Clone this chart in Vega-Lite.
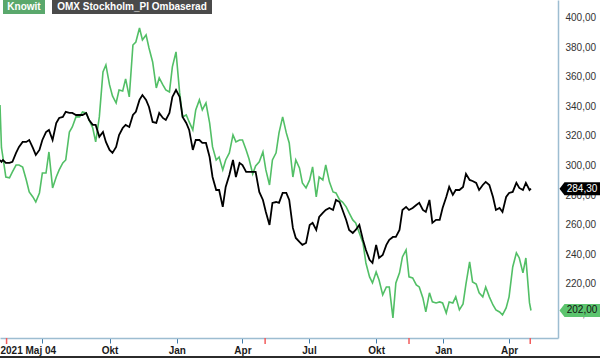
{
  "$schema": "https://vega.github.io/schema/vega-lite/v6.json",
  "width": 558,
  "height": 338,
  "autosize": {"type": "none"},
  "padding": {"left": 0, "top": 0, "right": 42, "bottom": 20},
  "background": "white",
  "config": {
    "view": {"stroke": null},
    "font": "Liberation Sans",
    "locale": {"number": {"decimal": ",", "thousands": " ", "grouping": [3], "currency": ["", ""]}}
  },
  "data": {"values": [
    {"d":"2021-05-04","Knowit":340.9,"OMX":303.7},
    {"d":"2021-05-06","Knowit":312.0,"OMX":302.5},
    {"d":"2021-05-08","Knowit":305.7,"OMX":303.7},
    {"d":"2021-05-12","Knowit":292.2,"OMX":301.7},
    {"d":"2021-05-17","Knowit":291.6,"OMX":301.7},
    {"d":"2021-05-21","Knowit":295.6,"OMX":302.4},
    {"d":"2021-05-26","Knowit":300.3,"OMX":308.5},
    {"d":"2021-05-30","Knowit":300.3,"OMX":312.5},
    {"d":"2021-06-04","Knowit":299.0,"OMX":315.9},
    {"d":"2021-06-09","Knowit":290.2,"OMX":315.9},
    {"d":"2021-06-13","Knowit":282.1,"OMX":317.2},
    {"d":"2021-06-18","Knowit":278.7,"OMX":311.8},
    {"d":"2021-06-22","Knowit":275.3,"OMX":307.1},
    {"d":"2021-06-27","Knowit":281.4,"OMX":310.5},
    {"d":"2021-07-01","Knowit":294.9,"OMX":317.2},
    {"d":"2021-07-06","Knowit":294.9,"OMX":322.6},
    {"d":"2021-07-10","Knowit":309.1,"OMX":324.0},
    {"d":"2021-07-15","Knowit":284.8,"OMX":317.2},
    {"d":"2021-07-20","Knowit":292.2,"OMX":328.7},
    {"d":"2021-07-24","Knowit":297.0,"OMX":332.1},
    {"d":"2021-07-29","Knowit":301.7,"OMX":332.8},
    {"d":"2021-08-02","Knowit":303.7,"OMX":336.2},
    {"d":"2021-08-07","Knowit":322.6,"OMX":335.5},
    {"d":"2021-08-11","Knowit":326.0,"OMX":335.5},
    {"d":"2021-08-16","Knowit":332.8,"OMX":334.1},
    {"d":"2021-08-21","Knowit":332.8,"OMX":334.1},
    {"d":"2021-08-25","Knowit":336.2,"OMX":334.1},
    {"d":"2021-08-30","Knowit":335.5,"OMX":335.5},
    {"d":"2021-09-03","Knowit":330.7,"OMX":330.7},
    {"d":"2021-09-08","Knowit":325.3,"OMX":327.4},
    {"d":"2021-09-12","Knowit":315.9,"OMX":327.4},
    {"d":"2021-09-17","Knowit":332.8,"OMX":319.3},
    {"d":"2021-09-22","Knowit":363.2,"OMX":322.6},
    {"d":"2021-09-26","Knowit":367.9,"OMX":315.9},
    {"d":"2021-10-01","Knowit":354.4,"OMX":310.5},
    {"d":"2021-10-05","Knowit":347.0,"OMX":308.5},
    {"d":"2021-10-10","Knowit":342.2,"OMX":312.5},
    {"d":"2021-10-14","Knowit":351.0,"OMX":320.6},
    {"d":"2021-10-19","Knowit":350.3,"OMX":325.3},
    {"d":"2021-10-23","Knowit":358.5,"OMX":327.4},
    {"d":"2021-10-28","Knowit":346.3,"OMX":326.0},
    {"d":"2021-11-02","Knowit":381.4,"OMX":334.1},
    {"d":"2021-11-06","Knowit":383.4,"OMX":336.2},
    {"d":"2021-11-11","Knowit":392.9,"OMX":344.3},
    {"d":"2021-11-15","Knowit":384.8,"OMX":347.6},
    {"d":"2021-11-20","Knowit":388.2,"OMX":344.3},
    {"d":"2021-11-24","Knowit":379.4,"OMX":339.5},
    {"d":"2021-11-29","Knowit":369.9,"OMX":329.4},
    {"d":"2021-12-04","Knowit":352.4,"OMX":328.7},
    {"d":"2021-12-08","Knowit":359.1,"OMX":335.5},
    {"d":"2021-12-13","Knowit":354.4,"OMX":332.1},
    {"d":"2021-12-17","Knowit":351.0,"OMX":330.7},
    {"d":"2021-12-22","Knowit":349.7,"OMX":335.5},
    {"d":"2021-12-26","Knowit":366.6,"OMX":346.3},
    {"d":"2021-12-31","Knowit":376.7,"OMX":351.0},
    {"d":"2022-01-05","Knowit":349.0,"OMX":346.3},
    {"d":"2022-01-09","Knowit":332.8,"OMX":332.8},
    {"d":"2022-01-14","Knowit":334.1,"OMX":328.7},
    {"d":"2022-01-18","Knowit":329.4,"OMX":324.0},
    {"d":"2022-01-23","Knowit":324.0,"OMX":310.5},
    {"d":"2022-01-27","Knowit":337.5,"OMX":317.2},
    {"d":"2022-02-01","Knowit":344.3,"OMX":317.2},
    {"d":"2022-02-05","Knowit":337.5,"OMX":315.2},
    {"d":"2022-02-10","Knowit":342.2,"OMX":315.2},
    {"d":"2022-02-15","Knowit":328.7,"OMX":305.7},
    {"d":"2022-02-19","Knowit":312.5,"OMX":292.2},
    {"d":"2022-02-24","Knowit":303.7,"OMX":283.4},
    {"d":"2022-02-28","Knowit":305.7,"OMX":283.4},
    {"d":"2022-03-05","Knowit":297.0,"OMX":272.0},
    {"d":"2022-03-09","Knowit":303.7,"OMX":285.5},
    {"d":"2022-03-14","Knowit":308.5,"OMX":293.6},
    {"d":"2022-03-19","Knowit":320.6,"OMX":303.7},
    {"d":"2022-03-23","Knowit":315.9,"OMX":292.2},
    {"d":"2022-03-28","Knowit":317.2,"OMX":301.7},
    {"d":"2022-04-01","Knowit":317.2,"OMX":300.3},
    {"d":"2022-04-06","Knowit":310.5,"OMX":295.6},
    {"d":"2022-04-10","Knowit":304.4,"OMX":295.6},
    {"d":"2022-04-15","Knowit":294.3,"OMX":295.6},
    {"d":"2022-04-19","Knowit":299.7,"OMX":295.6},
    {"d":"2022-04-24","Knowit":302.4,"OMX":282.1},
    {"d":"2022-04-29","Knowit":309.1,"OMX":276.7},
    {"d":"2022-05-03","Knowit":297.0,"OMX":268.6},
    {"d":"2022-05-08","Knowit":286.8,"OMX":259.8},
    {"d":"2022-05-12","Knowit":303.7,"OMX":274.7},
    {"d":"2022-05-17","Knowit":308.5,"OMX":275.3},
    {"d":"2022-05-21","Knowit":322.0,"OMX":274.7},
    {"d":"2022-05-26","Knowit":332.8,"OMX":281.4},
    {"d":"2022-05-31","Knowit":322.0,"OMX":281.4},
    {"d":"2022-06-04","Knowit":315.2,"OMX":276.7},
    {"d":"2022-06-09","Knowit":292.2,"OMX":257.8},
    {"d":"2022-06-13","Knowit":303.7,"OMX":251.0},
    {"d":"2022-06-18","Knowit":298.3,"OMX":248.3},
    {"d":"2022-06-22","Knowit":288.2,"OMX":246.3},
    {"d":"2022-06-27","Knowit":284.8,"OMX":247.6},
    {"d":"2022-07-02","Knowit":290.2,"OMX":259.8},
    {"d":"2022-07-06","Knowit":299.0,"OMX":261.2},
    {"d":"2022-07-11","Knowit":278.7,"OMX":256.4},
    {"d":"2022-07-15","Knowit":292.2,"OMX":265.2},
    {"d":"2022-07-20","Knowit":290.2,"OMX":267.9},
    {"d":"2022-07-24","Knowit":300.3,"OMX":269.9},
    {"d":"2022-07-29","Knowit":288.9,"OMX":271.3},
    {"d":"2022-08-03","Knowit":282.1,"OMX":269.9},
    {"d":"2022-08-07","Knowit":281.4,"OMX":276.7},
    {"d":"2022-08-12","Knowit":276.7,"OMX":275.3},
    {"d":"2022-08-16","Knowit":275.3,"OMX":269.9},
    {"d":"2022-08-21","Knowit":272.0,"OMX":263.2},
    {"d":"2022-08-25","Knowit":267.9,"OMX":256.4},
    {"d":"2022-08-30","Knowit":263.2,"OMX":254.4},
    {"d":"2022-09-03","Knowit":261.2,"OMX":256.4},
    {"d":"2022-09-08","Knowit":254.4,"OMX":259.8},
    {"d":"2022-09-13","Knowit":247.6,"OMX":249.7},
    {"d":"2022-09-17","Knowit":234.1,"OMX":242.9},
    {"d":"2022-09-22","Knowit":224.7,"OMX":236.2},
    {"d":"2022-09-26","Knowit":220.6,"OMX":234.1},
    {"d":"2022-10-01","Knowit":228.0,"OMX":246.3},
    {"d":"2022-10-05","Knowit":222.6,"OMX":237.5},
    {"d":"2022-10-10","Knowit":212.5,"OMX":239.5},
    {"d":"2022-10-15","Knowit":217.9,"OMX":246.3},
    {"d":"2022-10-19","Knowit":217.9,"OMX":249.7},
    {"d":"2022-10-24","Knowit":197.0,"OMX":251.7},
    {"d":"2022-10-28","Knowit":220.6,"OMX":251.7},
    {"d":"2022-11-02","Knowit":227.4,"OMX":256.4},
    {"d":"2022-11-06","Knowit":238.2,"OMX":269.9},
    {"d":"2022-11-11","Knowit":242.9,"OMX":272.0},
    {"d":"2022-11-15","Knowit":224.7,"OMX":269.9},
    {"d":"2022-11-20","Knowit":224.0,"OMX":271.3},
    {"d":"2022-11-25","Knowit":219.3,"OMX":273.3},
    {"d":"2022-11-29","Knowit":217.9,"OMX":274.7},
    {"d":"2022-12-04","Knowit":210.5,"OMX":269.9},
    {"d":"2022-12-08","Knowit":201.0,"OMX":268.6},
    {"d":"2022-12-13","Knowit":213.9,"OMX":276.7},
    {"d":"2022-12-17","Knowit":207.8,"OMX":261.2},
    {"d":"2022-12-22","Knowit":207.1,"OMX":263.2},
    {"d":"2022-12-27","Knowit":207.8,"OMX":263.2},
    {"d":"2022-12-31","Knowit":207.1,"OMX":271.3},
    {"d":"2023-01-05","Knowit":200.3,"OMX":278.7},
    {"d":"2023-01-09","Knowit":207.8,"OMX":285.5},
    {"d":"2023-01-14","Knowit":207.1,"OMX":280.1},
    {"d":"2023-01-18","Knowit":211.2,"OMX":283.4},
    {"d":"2023-01-23","Knowit":202.4,"OMX":283.4},
    {"d":"2023-01-28","Knowit":206.4,"OMX":285.5},
    {"d":"2023-02-01","Knowit":219.9,"OMX":294.3},
    {"d":"2023-02-06","Knowit":234.8,"OMX":290.2},
    {"d":"2023-02-10","Knowit":221.3,"OMX":289.5},
    {"d":"2023-02-15","Knowit":219.9,"OMX":288.2},
    {"d":"2023-02-19","Knowit":213.9,"OMX":283.4},
    {"d":"2023-02-24","Knowit":211.2,"OMX":286.8},
    {"d":"2023-02-28","Knowit":217.9,"OMX":288.9},
    {"d":"2023-03-05","Knowit":211.2,"OMX":286.8},
    {"d":"2023-03-10","Knowit":205.7,"OMX":278.7},
    {"d":"2023-03-14","Knowit":202.4,"OMX":269.9},
    {"d":"2023-03-19","Knowit":201.0,"OMX":271.3},
    {"d":"2023-03-23","Knowit":199.0,"OMX":268.6},
    {"d":"2023-03-28","Knowit":203.7,"OMX":278.7},
    {"d":"2023-04-01","Knowit":211.2,"OMX":281.4},
    {"d":"2023-04-06","Knowit":231.4,"OMX":282.1},
    {"d":"2023-04-11","Knowit":240.9,"OMX":288.2},
    {"d":"2023-04-15","Knowit":237.5,"OMX":284.8},
    {"d":"2023-04-20","Knowit":227.4,"OMX":283.4},
    {"d":"2023-04-24","Knowit":237.5,"OMX":288.2},
    {"d":"2023-04-29","Knowit":207.1,"OMX":283.4},
    {"d":"2023-05-01","Knowit":202.0,"OMX":284.3}
  ]},
  "layer": [
    {
      "mark": {"type": "line", "color": "#52bf66", "strokeWidth": 1.6},
      "encoding": {
        "x": {
          "field": "d", "type": "temporal",
          "scale": {"type": "utc", "domain": [{"year":2021,"month":5,"date":4,"utc":true},{"year":2023,"month":6,"date":7,"utc":true}]},
          "axis": {
            "title": null,
            "grid": false,
            "orient": "bottom",
            "tickCount": 20,
            "values": [
              {"year":2021,"month":5,"date":4,"utc":true},
              {"year":2021,"month":7,"date":1,"utc":true},
              {"year":2021,"month":10,"date":1,"utc":true},
              {"year":2022,"month":1,"date":1,"utc":true},
              {"year":2022,"month":4,"date":1,"utc":true},
              {"year":2022,"month":7,"date":1,"utc":true},
              {"year":2022,"month":10,"date":1,"utc":true},
              {"year":2023,"month":1,"date":1,"utc":true},
              {"year":2023,"month":4,"date":1,"utc":true}
            ],
            "labelExpr": "utcmonth(datum.value)==4 ? '2021 Maj 04' : utcmonth(datum.value)==0 ? 'Jan' : utcmonth(datum.value)==3 ? 'Apr' : utcmonth(datum.value)==9 ? 'Okt' : (utcyear(datum.value)==2021 ? '' : 'Jul')",
            "labelAlign": {"condition": {"test": "utcmonth(datum.value)==4", "value": "left"}, "value": "center"},
            "labelOverlap": false,
            "labelFlush": false,
            "labelBound": false,
            "labelFont": "Liberation Sans",
            "labelFontSize": 10,
            "labelFontWeight": "bold",
            "labelColor": "#1a1a1a",
            "labelPadding": 2,
            "tickSize": 5,
            "tickWidth": 1,
            "tickColor": {"condition": {"test": "utcmonth(datum.value)==4", "value": "transparent"}, "value": "#3f7bab"},
            "domainColor": "#9dbdd1",
            "domainWidth": 1.5
          }
        },
        "y": {
          "field": "Knowit", "type": "quantitative",
          "scale": {"domain": [183.4, 411.8], "nice": false, "zero": false},
          "axis": {
            "orient": "right",
            "title": null,
            "grid": false,
            "tickCount": 20,
            "values": [200,220,240,260,280,300,320,340,360,380,400],
            "format": ".2f",
            "labelOverlap": false,
            "labelFlush": false,
            "labelBound": false,
            "labelFont": "Liberation Sans",
            "labelFontSize": 10,
            "labelColor": "#333333",
            "labelPadding": 7,
            "ticks": false,
            "tickSize": 0,
            "domainColor": "#9dbdd1",
            "domainWidth": 1.5
          }
        }
      }
    },
    {
      "mark": {"type": "line", "color": "#000000", "strokeWidth": 1.8},
      "encoding": {
        "x": {"field": "d", "type": "temporal", "scale": {"type": "utc", "domain": [{"year":2021,"month":5,"date":4,"utc":true},{"year":2023,"month":6,"date":7,"utc":true}]}},
        "y": {"field": "OMX", "type": "quantitative", "scale": {"domain": [183.4, 411.8], "nice": false, "zero": false}}
      }
    },
    {
      "data": {"values": [{"d":"2021-05-13"},{"d":"2022-05-02"},{"d":"2022-11-15"},{"d":"2023-04-30"}]},
      "mark": {"type": "rule", "color": "#f25c5c", "strokeWidth": 1.5, "y2Offset": 6},
      "encoding": {
        "x": {"field": "d", "type": "temporal", "scale": {"type": "utc", "domain": [{"year":2021,"month":5,"date":4,"utc":true},{"year":2023,"month":6,"date":7,"utc":true}]}},
        "y": {"datum": 183.4, "type": "quantitative", "scale": {"domain": [183.4, 411.8], "nice": false, "zero": false}},
        "y2": {"datum": 183.4}
      }
    },
    {
      "data": {"values": [{}]},
      "mark": {"type": "rule", "color": "#2b2b2b", "strokeWidth": 2, "yOffset": 19, "x2Offset": 42},
      "encoding": {
        "x": {"datum": {"year":2021,"month":5,"date":4,"utc":true}, "type": "temporal", "scale": {"type": "utc", "domain": [{"year":2021,"month":5,"date":4,"utc":true},{"year":2023,"month":6,"date":7,"utc":true}]}},
        "x2": {"datum": {"year":2023,"month":6,"date":7,"utc":true}},
        "y": {"datum": 183.4, "type": "quantitative", "scale": {"domain": [183.4, 411.8], "nice": false, "zero": false}}
      }
    },
    {
      "transform": [{"filter": "utcyear(datum.d)==2023 && utcmonth(datum.d)==4"}],
      "mark": {"type": "point", "shape": "M1.5,0L6.5,-6.5H43V6.5H6.5Z", "size": 4, "filled": true, "opacity": 1, "color": "#000000"},
      "encoding": {
        "x": {"datum": {"year":2023,"month":6,"date":7,"utc":true}, "type": "temporal", "scale": {"type": "utc", "domain": [{"year":2021,"month":5,"date":4,"utc":true},{"year":2023,"month":6,"date":7,"utc":true}]}},
        "y": {"field": "OMX", "type": "quantitative", "scale": {"domain": [183.4, 411.8], "nice": false, "zero": false}}
      }
    },
    {
      "transform": [{"filter": "utcyear(datum.d)==2023 && utcmonth(datum.d)==4"}],
      "mark": {"type": "text", "color": "#ffffff", "font": "Liberation Sans", "fontSize": 10, "align": "center", "baseline": "middle", "dx": 24},
      "encoding": {
        "x": {"datum": {"year":2023,"month":6,"date":7,"utc":true}, "type": "temporal", "scale": {"type": "utc", "domain": [{"year":2021,"month":5,"date":4,"utc":true},{"year":2023,"month":6,"date":7,"utc":true}]}},
        "y": {"field": "OMX", "type": "quantitative", "scale": {"domain": [183.4, 411.8], "nice": false, "zero": false}},
        "text": {"field": "OMX", "type": "quantitative", "format": ".2f"}
      }
    },
    {
      "transform": [{"filter": "utcyear(datum.d)==2023 && utcmonth(datum.d)==4"}],
      "mark": {"type": "point", "shape": "M1.5,0L6.5,-6.5H43V6.5H6.5Z", "size": 4, "filled": true, "opacity": 1, "color": "#5cc46e"},
      "encoding": {
        "x": {"datum": {"year":2023,"month":6,"date":7,"utc":true}, "type": "temporal", "scale": {"type": "utc", "domain": [{"year":2021,"month":5,"date":4,"utc":true},{"year":2023,"month":6,"date":7,"utc":true}]}},
        "y": {"field": "Knowit", "type": "quantitative", "scale": {"domain": [183.4, 411.8], "nice": false, "zero": false}}
      }
    },
    {
      "transform": [{"filter": "utcyear(datum.d)==2023 && utcmonth(datum.d)==4"}],
      "mark": {"type": "text", "color": "#111111", "font": "Liberation Sans", "fontSize": 10, "align": "center", "baseline": "middle", "dx": 24},
      "encoding": {
        "x": {"datum": {"year":2023,"month":6,"date":7,"utc":true}, "type": "temporal", "scale": {"type": "utc", "domain": [{"year":2021,"month":5,"date":4,"utc":true},{"year":2023,"month":6,"date":7,"utc":true}]}},
        "y": {"field": "Knowit", "type": "quantitative", "scale": {"domain": [183.4, 411.8], "nice": false, "zero": false}},
        "text": {"field": "Knowit", "type": "quantitative", "format": ".2f"}
      }
    },
    {
      "data": {"values": [{}]},
      "mark": {"type": "point", "shape": "M3,0H45V14H3Z", "size": 4, "filled": true, "opacity": 1, "color": "#5aa86c"},
      "encoding": {
        "x": {"datum": {"year":2021,"month":5,"date":4,"utc":true}, "type": "temporal", "scale": {"type": "utc", "domain": [{"year":2021,"month":5,"date":4,"utc":true},{"year":2023,"month":6,"date":7,"utc":true}]}},
        "y": {"datum": 411.8, "type": "quantitative", "scale": {"domain": [183.4, 411.8], "nice": false, "zero": false}}
      }
    },
    {
      "data": {"values": [{}]},
      "mark": {"type": "point", "shape": "M52,0H212V14H52Z", "size": 4, "filled": true, "opacity": 1, "color": "#4a4a4a"},
      "encoding": {
        "x": {"datum": {"year":2021,"month":5,"date":4,"utc":true}, "type": "temporal", "scale": {"type": "utc", "domain": [{"year":2021,"month":5,"date":4,"utc":true},{"year":2023,"month":6,"date":7,"utc":true}]}},
        "y": {"datum": 411.8, "type": "quantitative", "scale": {"domain": [183.4, 411.8], "nice": false, "zero": false}}
      }
    },
    {
      "data": {"values": [{}]},
      "mark": {"type": "text", "color": "#ffffff", "font": "Liberation Sans", "fontSize": 10, "fontWeight": "bold", "align": "center", "baseline": "middle", "dx": 24, "dy": 7},
      "encoding": {
        "x": {"datum": {"year":2021,"month":5,"date":4,"utc":true}, "type": "temporal", "scale": {"type": "utc", "domain": [{"year":2021,"month":5,"date":4,"utc":true},{"year":2023,"month":6,"date":7,"utc":true}]}},
        "y": {"datum": 411.8, "type": "quantitative", "scale": {"domain": [183.4, 411.8], "nice": false, "zero": false}},
        "text": {"value": "Knowit"}
      }
    },
    {
      "data": {"values": [{}]},
      "mark": {"type": "text", "color": "#ffffff", "font": "Liberation Sans", "fontSize": 10, "fontWeight": "bold", "align": "center", "baseline": "middle", "dx": 132, "dy": 7},
      "encoding": {
        "x": {"datum": {"year":2021,"month":5,"date":4,"utc":true}, "type": "temporal", "scale": {"type": "utc", "domain": [{"year":2021,"month":5,"date":4,"utc":true},{"year":2023,"month":6,"date":7,"utc":true}]}},
        "y": {"datum": 411.8, "type": "quantitative", "scale": {"domain": [183.4, 411.8], "nice": false, "zero": false}},
        "text": {"value": "OMX Stockholm_PI Ombaserad"}
      }
    }
  ]
}
